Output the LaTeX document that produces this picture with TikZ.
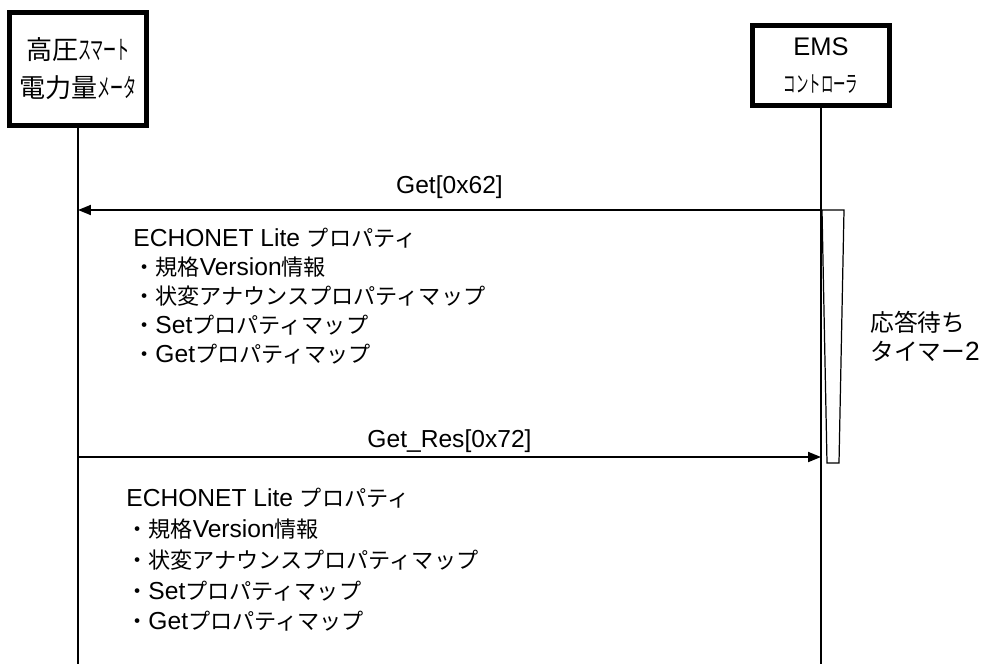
\documentclass[tikz,border=0pt]{standalone}
\usepackage{fontspec}
\setmainfont{Liberation Sans}
\newfontfamily\jp[Scale=0.9]{Noto Sans CJK JP}
\usepackage{tikz}
\usetikzlibrary{arrows.meta, positioning}

\tikzset{
  actor/.style={draw, line width=0.1cm, minimum width=2.74cm, align=center, inner sep=0pt},
  lifeline/.style={line width=0.8pt},
  msg/.style={line width=1.1pt, -{Triangle[length=0.26cm, width=0.2cm]}},
  msglabel/.style={font=\fontsize{14}{15}\selectfont, inner sep=1pt},
  proptext/.style={font=\fontsize{14}{16.5}\selectfont, align=left, anchor=west, inner sep=0pt}
}

\begin{document}
\begin{tikzpicture}[x=0.02cm, y=-0.02cm]
  \useasboundingbox (0,0) rectangle (984,664);

  % Participants
  \node[actor, minimum height=2.26cm, font=\fontsize{16.5}{21.5}\selectfont] (meter) at (78,69)
    {{\jp 高圧\scalebox{0.5}[1]{スマート}}\\{\jp 電力量\scalebox{0.5}[1]{メータ}}};
  \node[actor, minimum height=1.6cm, font=\fontsize{14.5}{21}\selectfont] (ems) at (821,65.5)
    {EMS\\{\jp\scalebox{0.54}[1]{コントローラ}}};

  % Lifelines
  \coordinate (meterEnd) at (78,664);
  \coordinate (emsEnd) at (821,664);
  \draw[lifeline] (meter.south) -- (meterEnd);
  \draw[lifeline] (ems.south) -- (emsEnd);

  % Get request
  \coordinate (getS) at (821,210);
  \coordinate (getE) at (78,210);
  \draw[msg] (getS) -- node[msglabel, above=5pt] {Get[0x62]} (getE);
  \node[proptext] (getProps) at (133,296) {ECHONET Lite {\jp プロパティ}\\{\jp ・規格}Version{\jp 情報}\\{\jp ・状変アナウンスプロパティマップ}\\{\jp ・}Set{\jp プロパティマップ}\\{\jp ・}Get{\jp プロパティマップ}};

  % Response timer
  \draw[line width=0.7pt] (822,210) -- (844,210) -- (839,463) -- (827,463) -- cycle;
  \node[proptext, font=\fontsize{15}{16.5}\selectfont] (timer) at (870,336) {{\jp 応答待ち}\\{\jp タイマー}2};

  % Get response
  \coordinate (resS) at (78,457);
  \coordinate (resE) at (821,457);
  \draw[msg] (resS) -- node[msglabel, above=1pt] {Get\_Res[0x72]} (resE);
  \node[proptext, font=\fontsize{14}{17.5}\selectfont] (resProps) at (126,560) {ECHONET Lite {\jp プロパティ}\\{\jp ・規格}Version{\jp 情報}\\{\jp ・状変アナウンスプロパティマップ}\\{\jp ・}Set{\jp プロパティマップ}\\{\jp ・}Get{\jp プロパティマップ}};
\end{tikzpicture}
\end{document}
